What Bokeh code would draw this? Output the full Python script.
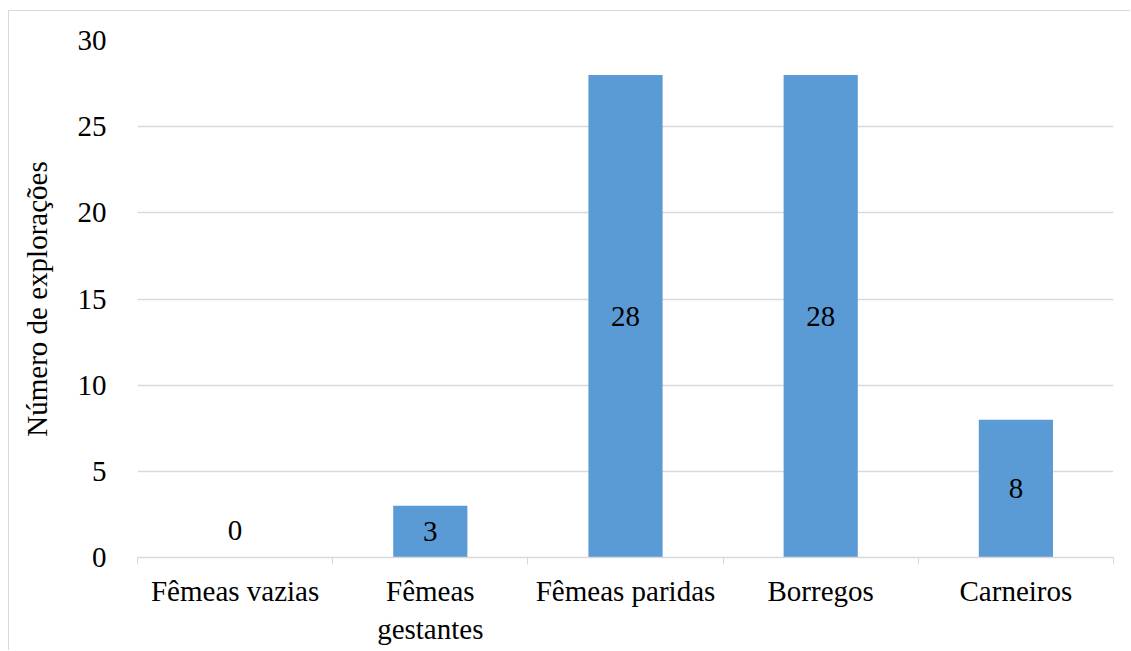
import numpy as np
from bokeh.plotting import figure
from bokeh.models import ColumnDataSource, FixedTicker, Range1d
from bokeh.core.properties import value
from bokeh.embed import file_html
from bokeh.resources import INLINE

# Number of farms reporting each sheep category
categories = ["Fêmeas vazias", "Fêmeas\ngestantes", "Fêmeas paridas", "Borregos", "Carneiros"]
counts = [0, 3, 28, 28, 8]
y_ticks = [0, 5, 10, 15, 20, 25, 30]

FONT = "Liberation Serif"
BAR_COLOR = "#5B9BD5"
GRID_COLOR = "#D9D9D9"

pos = np.arange(len(categories)) + 0.5
vals = np.array(counts, dtype=float)

source = ColumnDataSource(data=dict(
    x=pos,
    top=vals,
    label_y=vals / 2,
    # a zero-height bar keeps its label just above the baseline
    label_off=np.where(vals > 0, 0, -27),
    label=[str(c) for c in counts],
))

p = figure(
    width=1122, height=640,
    x_range=Range1d(0, len(categories)),
    y_range=Range1d(0, 30),
    output_backend="svg", toolbar_location=None,
    min_border_left=128, min_border_right=18,
    min_border_top=29, min_border_bottom=94,
    styles={"margin-left": "8px", "margin-top": "10px",
            "border-left": "1px solid #D9D9D9", "border-top": "1px solid #D9D9D9"},
)
p.outline_line_color = None
p.background_fill_color = "white"
p.border_fill_color = "white"

p.vbar(x="x", top="top", width=0.38, bottom=0, color=BAR_COLOR, line_color=None, source=source)

p.text(x="x", y="label_y", text="label", y_offset="label_off", source=source,
       text_font=value(FONT), text_font_size="29px", text_color="black",
       text_align="center", text_baseline="middle")

# x axis: labels at category centres, tick marks at category boundaries
xa = p.xaxis[0]
xa.ticker = FixedTicker(ticks=list(pos), minor_ticks=list(range(len(categories) + 1)))
xa.major_label_overrides = {float(x): c for x, c in zip(pos, categories)}
xa.major_tick_line_color = None
xa.minor_tick_line_color = GRID_COLOR
xa.minor_tick_in = 0
xa.minor_tick_out = 7
xa.axis_line_color = GRID_COLOR
xa.axis_line_width = 1.5
xa.major_label_text_font = FONT
xa.major_label_text_font_size = "29px"
xa.major_label_text_color = "black"
xa.major_label_standoff = 10

ya = p.yaxis[0]
ya.ticker = FixedTicker(ticks=y_ticks)
ya.axis_line_color = None
ya.major_tick_line_color = None
ya.minor_tick_line_color = None
ya.major_label_text_font = FONT
ya.major_label_text_font_size = "29px"
ya.major_label_text_color = "black"
ya.major_label_standoff = 25
ya.axis_label = "Número de explorações"
ya.axis_label_text_font = FONT
ya.axis_label_text_font_size = "29px"
ya.axis_label_text_font_style = "normal"
ya.axis_label_text_color = "black"
ya.axis_label_standoff = 22

p.xgrid.grid_line_color = None
p.ygrid.grid_line_color = GRID_COLOR
p.ygrid.grid_line_width = 1.5

open("out.html", "w").write(file_html(p, INLINE))
